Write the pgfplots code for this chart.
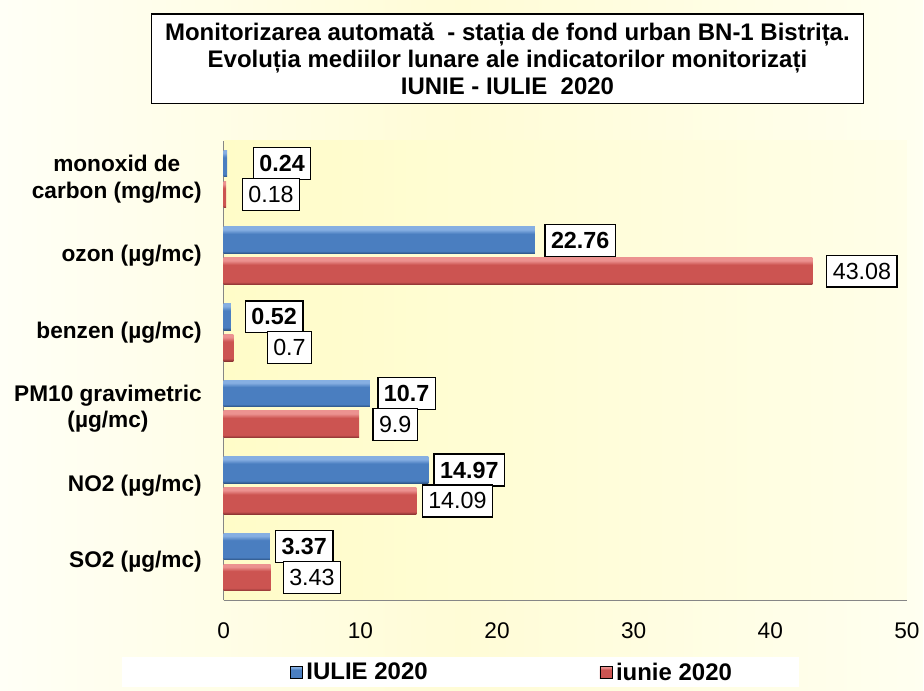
\documentclass[border=0pt]{standalone}
\usepackage{pgfplots}
\pgfplotsset{compat=1.18}
\usepackage{fontspec}
\setmainfont{Liberation Sans}
\definecolor{bgL}{HTML}{FFFFF6}
\definecolor{bgM}{HTML}{FFFCD6}
\definecolor{bgR}{HTML}{FFFFF0}
\definecolor{plotL}{HTML}{FFFCC8}
\definecolor{plotR}{HTML}{FFFEE8}
\definecolor{bTop}{HTML}{86AFE2}
\definecolor{bMid}{HTML}{4A7EC0}
\definecolor{bBot}{HTML}{2C5282}
\definecolor{rTop}{HTML}{EC9290}
\definecolor{rMid}{HTML}{CC5451}
\definecolor{rBot}{HTML}{8A3331}
\definecolor{axgray}{HTML}{868686}
\pgfdeclareverticalshading{bluebevel}{100bp}{color(0bp)=(bBot); color(25bp)=(bBot); color(30bp)=(bMid); color(62bp)=(bMid); color(70bp)=(bTop); color(75bp)=(bTop); color(100bp)=(bTop)}
\pgfdeclareverticalshading{redbevel}{100bp}{color(0bp)=(rBot); color(25bp)=(rBot); color(30bp)=(rMid); color(62bp)=(rMid); color(70bp)=(rTop); color(75bp)=(rTop); color(100bp)=(rTop)}

\tikzset{lblbase/.style={anchor=west, draw=black, line width=1pt, fill=white, text=black,
    inner xsep=4.5pt, minimum height=24pt}}
\pgfplotsset{
  blueb/.style={xbar, bar shift=11.6pt, draw=none, shade, shading=bluebevel,
    forget plot, nodes near coords,
    nodes near coords style={lblbase, font=\bfseries\fontsize{17.5}{20}\selectfont, xshift=#1}},
  redb/.style={xbar, bar shift=-11.6pt, draw=none, shade, shading=redbevel,
    forget plot, nodes near coords,
    nodes near coords style={lblbase, font=\fontsize{17.5}{20}\selectfont, xshift=#1}},
}

\begin{document}
\begin{tikzpicture}[x=1pt,y=1pt]
\shade[left color=bgL, right color=bgR, middle color=bgM] (0,0) rectangle (693,518.25);
\fill[white] (91.5,2.25) rectangle (600,24.75);
\node[draw=black, fill=white, line width=0.8pt, minimum width=534pt, minimum height=67.5pt,
  align=center, inner sep=0pt, font=\bfseries\fontsize{18}{20}\selectfont] at (381,474)
  {Monitorizarea automată \ - stația de fond urban BN-1 Bistrița.\\
   Evoluția mediilor lunare ale indicatorilor monitorizați\\
   IUNIE - IULIE \ 2020};
\begin{axis}[
  at={(168pt,67.5pt)}, anchor=south west,
  scale only axis, width=513pt, height=345pt,
  xbar, bar width=20pt,
  xmin=0, xmax=50, ymin=-0.5, ymax=5.5,
  xtick={0,10,...,50}, ytick={0,...,5},
  yticklabels={{SO2 (µg/mc)},{NO2 (µg/mc)},{PM10 gravimetric\\(µg/mc)},{benzen (µg/mc)},{ozon (µg/mc)},{monoxid de\\carbon (mg/mc)}},
  axis x line*=bottom, axis y line*=left,
  axis line style={-, draw=axgray, line width=1pt},
  major tick length=0pt,
  axis background/.style={shade, left color=plotL, right color=plotR},
  /pgf/number format/assume math mode=true,
  xticklabel style={font=\fontsize{17}{19}\selectfont, yshift=-13pt},
  yticklabel style={font=\bfseries\fontsize{17}{20}\selectfont, align=center, xshift=-13pt},
  point meta=explicit symbolic,
  legend style={at={(axis description cs:0.0965,-0.157)}, anchor=west, draw=none, fill=none,
    inner sep=0pt, font=\bfseries\fontsize{18}{20}\selectfont,
    nodes={inner xsep=3pt}},
  legend columns=2,
  /tikz/every even column/.append style={column sep=126pt},
  legend cell align=left,
]
% IULIE 2020 (blue)
\addplot[blueb=3.8pt]  coordinates {(3.37,0) [3.37]};
\addplot[blueb=3.9pt]  coordinates {(14.97,1) [14.97]};
\addplot[blueb=5.5pt]  coordinates {(10.7,2) [10.7]};
\addplot[blueb=10.5pt] coordinates {(0.52,3) [0.52]};
\addplot[blueb=7.2pt]  coordinates {(22.76,4) [22.76]};
\addplot[blueb=19.3pt] coordinates {(0.24,5) [0.24]};
% iunie 2020 (red)
\addplot[redb=9pt]    coordinates {(3.43,0) [3.43]};
\addplot[redb=4pt]    coordinates {(14.09,1) [14.09]};
\addplot[redb=10pt]   coordinates {(9.9,2) [9.9]};
\addplot[redb=25pt]   coordinates {(0.7,3) [0.7]};
\addplot[redb=10.3pt] coordinates {(43.08,4) [43.08]};
\addplot[redb=11.6pt] coordinates {(0.18,5) [0.18]};
\addlegendimage{legend image code/.code={\shade[shading=bluebevel] (0pt,-4.5pt) rectangle (9pt,4.5pt);}}
\addlegendentry{IULIE 2020}
\addlegendimage{legend image code/.code={\shade[shading=redbevel] (0pt,-4.5pt) rectangle (9pt,4.5pt);}}
\addlegendentry{iunie 2020}
\end{axis}
\end{tikzpicture}
\end{document}
